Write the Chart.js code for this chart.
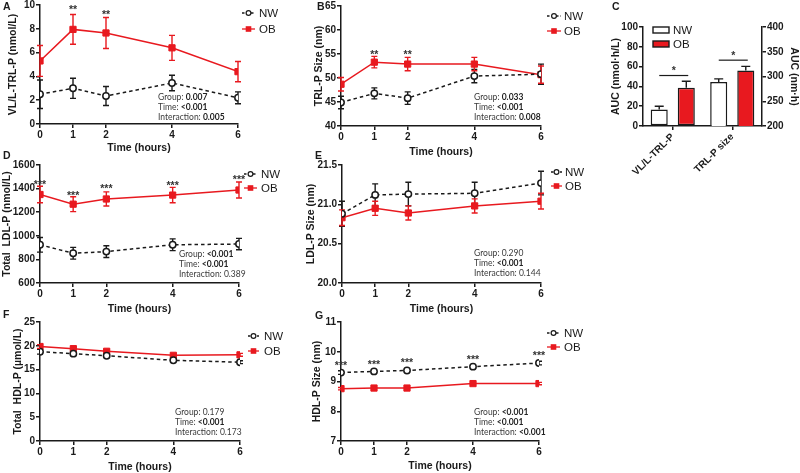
<!DOCTYPE html>
<html><head><meta charset="utf-8">
<script src="https://cdn.jsdelivr.net/npm/chart.js@4.4.1/dist/chart.umd.min.js"></script>
<style>
html,body{margin:0;padding:0;background:#fff;overflow:hidden;width:800px;height:473px;position:relative}
.pane{position:absolute;left:-50px;top:-50px;width:900px;height:573px}
canvas{display:block}
</style></head><body>
<script>
// ---------------- DATA ----------------
const timeHours = [0, 1, 2, 4, 6];
const timeTickValues = [0, 1, 2, 4, 6];
const groupNames = ['NW', 'OB'];

// A: VL/L-TRL-P (nmol/L)
const vlNW = [2.5, 3.0, 2.35, 3.45, 2.2];
const vlNWsem = [1.2, 0.85, 0.8, 0.65, 0.5];
const vlOB = [5.3, 7.95, 7.65, 6.4, 4.4];
const vlOBsem = [1.3, 1.25, 1.3, 1.05, 0.85];
const vlStars = ['', '**', '**', '', ''];
const vlStarY = [null, 9.85, 9.45, null, null];
const vlTicks = [0, 2, 4, 6, 8, 10];
const vlTickLabels = ['0', '2', '4', '6', '8', '10'];
const vlStats = [['Group: ', '0.007', true], ['Time: ', '<0.001', true], ['Interaction: ', '0.005', true]];

// B: TRL-P size (nm)
const trlNW = [44.9, 46.8, 45.8, 50.4, 50.8];
const trlNWsem = [1.3, 1.15, 1.3, 1.4, 2.1];
const trlOB = [48.7, 53.3, 52.9, 52.9, 50.7];
const trlOBsem = [1.4, 1.2, 1.4, 1.4, 1.8];
const trlStars = ['', '**', '**', '', ''];
const trlStarY = [null, 55.5, 55.5, null, null];
const trlTicks = [40, 45, 50, 55, 60, 65];
const trlTickLabels = ['40', '45', '50', '55', '60', '65'];
const trlStats = [['Group: ', '0.033', true], ['Time: ', '<0.001', true], ['Interaction: ', '0.008', true]];

// C: AUC
const aucCategories = ['VL/L-TRL-P', 'TRL-P size'];
const aucNW = [16.7, 288.7];
const aucNWsem = [3.3, 6.5];
const aucOB = [38.7, 312];
const aucOBsem = [6.5, 8.5];
const aucSig = ['*', '*'];
const aucSigY = [51, 333];
const aucLeftTicks = [0, 20, 40, 60, 80, 100];
const aucRightTicks = [200, 250, 300, 350, 400];

// D: Total LDL-P (nmol/L)
const ldlNW = [924, 852, 866, 924, 930];
const ldlNWsem = [62, 50, 50, 50, 48];
const ldlOB = [1350, 1268, 1312, 1345, 1388];
const ldlOBsem = [70, 63, 60, 65, 68];
const ldlStars = ['***', '***', '***', '***', '***'];
const ldlStarY = [1456, 1362, 1421, 1447, 1498];
const ldlTicks = [600, 800, 1000, 1200, 1400, 1600];
const ldlTickLabels = ['600', '800', '1000', '1200', '1400', '1600'];
const ldlStats = [['Group: ', '<0.001', true], ['Time: ', '<0.001', true], ['Interaction: ', '0.389', false]];

// E: LDL-P size (nm)
const ldlSizeNW = [20.88, 21.12, 21.13, 21.14, 21.27];
const ldlSizeNWsem = [0.16, 0.14, 0.15, 0.14, 0.15];
const ldlSizeOB = [20.83, 20.95, 20.89, 20.98, 21.04];
const ldlSizeOBsem = [0.10, 0.09, 0.09, 0.09, 0.10];
const ldlSizeTicks = [20.0, 20.5, 21.0, 21.5];
const ldlSizeTickLabels = ['20.0', '20.5', '21.0', '21.5'];
const ldlSizeStats = [['Group: ', '0.290', false], ['Time: ', '<0.001', true], ['Interaction: ', '0.144', false]];

// F: Total HDL-P (umol/L)
const hdlNW = [18.75, 18.35, 17.9, 16.95, 16.55];
const hdlNWsem = [0.5, 0.4, 0.35, 0.3, 0.3];
const hdlOB = [19.85, 19.4, 18.85, 18.0, 18.1];
const hdlOBsem = [0.4, 0.35, 0.35, 0.3, 0.3];
const hdlTicks = [0, 5, 10, 15, 20, 25];
const hdlTickLabels = ['0', '5', '10', '15', '20', '25'];
const hdlStats = [['Group: ', '0.179', false], ['Time: ', '<0.001', true], ['Interaction: ', '0.173', false]];

// G: HDL-P size (nm)
const hdlSizeNW = [9.3, 9.34, 9.37, 9.5, 9.62];
const hdlSizeNWsem = [0.06, 0.05, 0.05, 0.05, 0.06];
const hdlSizeOB = [8.76, 8.78, 8.78, 8.93, 8.93];
const hdlSizeOBsem = [0.04, 0.04, 0.04, 0.04, 0.04];
const hdlSizeStars = ['***', '***', '***', '***', '***'];
const hdlSizeStarY = [9.63, 9.66, 9.71, 9.81, 9.95];
const hdlSizeTicks = [7, 8, 9, 10, 11];
const hdlSizeTickLabels = ['7', '8', '9', '10', '11'];
const hdlSizeStats = [['Group: ', '<0.001', true], ['Time: ', '<0.001', true], ['Interaction: ', '<0.001', true]];

// ---------------- STYLE / LAYOUT ----------------
const OFF = 50, CW = 900, CH = 573;
const P = v => v + OFF;
const INK = '#1a1a1a';
const RED = '#e8191f';
const FONT = '"Liberation Sans", Arial, Helvetica, sans-serif';
const STATFONT = 'Lato, "Open Sans", sans-serif';
const TICKSIZE = 10;
Chart.defaults.font.family = FONT;
Chart.defaults.color = INK;

function newCanvas() {
  const host = document.createElement('div');
  host.className = 'pane';
  const cv = document.createElement('canvas');
  cv.width = CW; cv.height = CH;
  cv.style.width = CW + 'px'; cv.style.height = CH + 'px';
  host.appendChild(cv);
  document.body.appendChild(host);
  return cv;
}

function axisBase() {
  return {
    grid: { display: true, drawOnChartArea: false, drawTicks: true, tickLength: 4, color: INK, lineWidth: 1.5 },
    border: { display: true, color: INK, width: 1.5 },
    ticks: { color: INK, font: { size: TICKSIZE, weight: 'bold' }, padding: 1, autoSkip: false, maxRotation: 0 }
  };
}

function drawLetter(ctx, L) {
  ctx.save();
  ctx.font = 'bold 10.5px ' + FONT;
  ctx.fillStyle = INK; ctx.textAlign = 'left'; ctx.textBaseline = 'alphabetic';
  ctx.fillText(L.t, P(L.x), P(L.y));
  ctx.restore();
}

function drawStats(ctx, st) {
  ctx.save();
  ctx.textBaseline = 'middle'; ctx.textAlign = 'left';
  st.lines.forEach(([lab, val, bold], k) => {
    const y = P(st.y) + k * st.dy;
    ctx.fillStyle = '#3a3a3a';
    ctx.font = '8.5px ' + STATFONT;
    ctx.fillText(lab, P(st.x), y);
    const w = ctx.measureText(lab).width;
    ctx.font = (bold ? 'bold ' : '') + '8.5px ' + STATFONT;
    ctx.fillStyle = bold ? '#222' : '#3a3a3a';
    ctx.fillText(val, P(st.x) + w, y);
  });
  ctx.restore();
}

function drawLineLegend(ctx, lg) {
  ctx.save();
  const y1 = P(lg.y[0]), y2 = P(lg.y[1]);
  const x0 = P(lg.x0), x1 = P(lg.x1), xm = (x0 + x1) / 2;
  ctx.strokeStyle = INK; ctx.lineWidth = 1.3; ctx.setLineDash([2.5, 2]);
  ctx.beginPath(); ctx.moveTo(x0, y1); ctx.lineTo(x1, y1); ctx.stroke();
  ctx.setLineDash([]);
  ctx.beginPath(); ctx.arc(xm, y1, 2.4, 0, Math.PI * 2);
  ctx.fillStyle = '#fff'; ctx.fill(); ctx.lineWidth = 1.2; ctx.stroke();
  ctx.strokeStyle = RED; ctx.lineWidth = 1.3;
  ctx.beginPath(); ctx.moveTo(x0, y2); ctx.lineTo(x1, y2); ctx.stroke();
  ctx.fillStyle = RED; ctx.fillRect(xm - 2.8, y2 - 2.8, 5.6, 5.6);
  ctx.fillStyle = INK; ctx.font = '11.5px ' + FONT;
  ctx.textAlign = 'left'; ctx.textBaseline = 'middle';
  ctx.fillText(groupNames[0], P(lg.tx), y1 + 0.5);
  ctx.fillText(groupNames[1], P(lg.tx), y2 + 0.5);
  ctx.restore();
}

function drawErrorBars(chart, upOnly, cap) {
  const ctx = chart.ctx;
  chart.data.datasets.forEach((ds, i) => {
    if (!ds.errors) return;
    const meta = chart.getDatasetMeta(i);
    const ys = chart.scales[meta.yAxisID];
    ctx.save();
    ctx.strokeStyle = ds.errColor; ctx.lineWidth = 1.4;
    meta.data.forEach((el, j) => {
      const raw = ds.data[j];
      const v = (raw !== null && typeof raw === 'object') ? raw.y : raw;
      const e = ds.errors[j];
      if (v === null || v === undefined || e === null || e === undefined) return;
      const x = el.x;
      const yt = ys.getPixelForValue(v + e);
      const yb = upOnly ? ys.getPixelForValue(v) : ys.getPixelForValue(v - e);
      ctx.beginPath();
      ctx.moveTo(x, yt); ctx.lineTo(x, yb);
      ctx.moveTo(x - cap, yt); ctx.lineTo(x + cap, yt);
      if (!upOnly) { ctx.moveTo(x - cap, yb); ctx.lineTo(x + cap, yb); }
      ctx.stroke();
    });
    ctx.restore();
  });
}

function toPts(arr) { return timeHours.map((t, i) => ({ x: t, y: arr[i] })); }

function makeLine(cfg) {
  const cv = newCanvas();
  const b = cfg.box;
  const xAxis = axisBase();
  xAxis.type = 'linear'; xAxis.min = 0; xAxis.max = 6;
  xAxis.afterBuildTicks = s => { s.ticks = timeTickValues.map(v => ({ value: v })); };
  xAxis.afterFit = s => { s.height = cfg.hx; };
  xAxis.title = { display: true, text: 'Time (hours)', color: INK, font: { size: 10.5, weight: 'bold' }, padding: 0 };
  const yAxis = axisBase();
  yAxis.type = 'linear';
  yAxis.min = cfg.yTicks[0]; yAxis.max = cfg.yTicks[cfg.yTicks.length - 1];
  yAxis.afterBuildTicks = s => { s.ticks = cfg.yTicks.map(v => ({ value: v })); };
  yAxis.ticks.callback = (v, i) => cfg.yLabels[i];
  yAxis.afterFit = s => { s.width = cfg.wy; };
  yAxis.title = { display: true, text: cfg.yTitle, color: INK, font: { size: 10.5, weight: 'bold' }, padding: 0 };

  const decor = {
    id: 'decor',
    beforeDatasetsDraw(chart) { drawErrorBars(chart, false, 3); },
    afterDraw(chart) {
      const ctx = chart.ctx;
      if (cfg.stars) {
        ctx.save();
        ctx.font = 'bold 10.5px ' + FONT; ctx.fillStyle = '#333';
        ctx.textAlign = 'center'; ctx.textBaseline = 'alphabetic';
        cfg.stars.forEach((s, j) => {
          if (!s) return;
          const x = chart.scales.x.getPixelForValue(timeHours[j]);
          const y = chart.scales.y.getPixelForValue(cfg.starY[j]);
          ctx.fillText(s, x, y + 0.57 * 10.5);
        });
        ctx.restore();
      }
      drawStats(ctx, cfg.stats);
      drawLineLegend(ctx, cfg.legend);
      drawLetter(ctx, cfg.letter);
    }
  };

  new Chart(cv, {
    type: 'line',
    data: {
      datasets: [
        { label: groupNames[0], data: toPts(cfg.nw), errors: cfg.nwErr, errColor: INK,
          borderColor: INK, borderWidth: 1.5, borderDash: [3.5, 3], tension: 0, fill: false,
          pointStyle: 'circle', pointRadius: 3.2, pointBorderWidth: 1.5,
          pointBackgroundColor: '#fff', pointBorderColor: INK },
        { label: groupNames[1], data: toPts(cfg.ob), errors: cfg.obErr, errColor: RED,
          borderColor: RED, borderWidth: 1.5, tension: 0, fill: false,
          pointStyle: 'rect', pointRadius: 4.4, pointBorderWidth: 1,
          pointBackgroundColor: RED, pointBorderColor: RED }
      ]
    },
    options: {
      responsive: false, animation: false, events: [], devicePixelRatio: 1,
      layout: { padding: { left: P(b.L) - cfg.wy, top: P(b.T), right: CW - P(b.R), bottom: CH - P(b.B) - cfg.hx } },
      plugins: { legend: { display: false }, tooltip: { enabled: false }, title: { display: false } },
      scales: { x: xAxis, y: yAxis }
    },
    plugins: [decor]
  });
}

// ---------------- LINE PANELS ----------------
makeLine({ box: { L: 40, T: 5, R: 238, B: 124 }, wy: 33, hx: 30,
  yTicks: vlTicks, yLabels: vlTickLabels, yTitle: 'VL/L-TRL-P (nmol/L)',
  nw: vlNW, nwErr: vlNWsem, ob: vlOB, obErr: vlOBsem, stars: vlStars, starY: vlStarY,
  stats: { x: 158, y: 97.5, dy: 10, lines: vlStats },
  legend: { x0: 242, x1: 255, tx: 259, y: [13, 29] }, letter: { t: 'A', x: 3, y: 10 } });

makeLine({ box: { L: 341, T: 6, R: 541, B: 126 }, wy: 28, hx: 32,
  yTicks: trlTicks, yLabels: trlTickLabels, yTitle: 'TRL-P Size (nm)',
  nw: trlNW, nwErr: trlNWsem, ob: trlOB, obErr: trlOBsem, stars: trlStars, starY: trlStarY,
  stats: { x: 474, y: 97.5, dy: 10, lines: trlStats },
  legend: { x0: 547, x1: 561, tx: 564, y: [16, 31] }, letter: { t: 'B', x: 317, y: 10 } });

makeLine({ box: { L: 40, T: 165, R: 239, B: 283 }, wy: 39, hx: 32,
  yTicks: ldlTicks, yLabels: ldlTickLabels, yTitle: 'Total  LDL-P (nmol/L)',
  nw: ldlNW, nwErr: ldlNWsem, ob: ldlOB, obErr: ldlOBsem, stars: ldlStars, starY: ldlStarY,
  stats: { x: 179, y: 254, dy: 10, lines: ldlStats },
  legend: { x0: 244, x1: 257, tx: 261, y: [174, 188] }, letter: { t: 'D', x: 3, y: 159 } });

makeLine({ box: { L: 342, T: 165, R: 541, B: 283 }, wy: 37, hx: 32,
  yTicks: ldlSizeTicks, yLabels: ldlSizeTickLabels, yTitle: 'LDL-P Size (nm)',
  nw: ldlSizeNW, nwErr: ldlSizeNWsem, ob: ldlSizeOB, obErr: ldlSizeOBsem,
  stats: { x: 474, y: 253, dy: 10, lines: ldlSizeStats },
  legend: { x0: 551, x1: 562, tx: 565, y: [172, 186] }, letter: { t: 'E', x: 315, y: 159 } });

makeLine({ box: { L: 40, T: 322, R: 240, B: 441 }, wy: 28, hx: 32,
  yTicks: hdlTicks, yLabels: hdlTickLabels, yTitle: 'Total  HDL-P (\u00b5mol/L)',
  nw: hdlNW, nwErr: hdlNWsem, ob: hdlOB, obErr: hdlOBsem,
  stats: { x: 175, y: 412, dy: 10, lines: hdlStats },
  legend: { x0: 248, x1: 259, tx: 264, y: [336, 351] }, letter: { t: 'F', x: 3, y: 318 } });

makeLine({ box: { L: 341, T: 322, R: 539, B: 441 }, wy: 30, hx: 31,
  yTicks: hdlSizeTicks, yLabels: hdlSizeTickLabels, yTitle: 'HDL-P Size (nm)',
  nw: hdlSizeNW, nwErr: hdlSizeNWsem, ob: hdlSizeOB, obErr: hdlSizeOBsem, stars: hdlSizeStars, starY: hdlSizeStarY,
  stats: { x: 474, y: 412, dy: 10, lines: hdlSizeStats },
  legend: { x0: 547, x1: 560, tx: 564, y: [333, 347] }, letter: { t: 'G', x: 315, y: 319 } });

// ---------------- BAR PANEL C ----------------
(function () {
  const cv = newCanvas();
  const b = { L: 643, T: 27, R: 762, B: 126 };
  const wyL = 33, wyR = 38, hx = 50;
  const xAxis = axisBase();
  xAxis.type = 'category'; xAxis.offset = true;
  xAxis.grid.offset = false;
  xAxis.ticks.maxRotation = 45; xAxis.ticks.minRotation = 45;
  xAxis.afterFit = s => { s.height = hx; };
  const yL = axisBase();
  yL.type = 'linear'; yL.position = 'left'; yL.min = aucLeftTicks[0]; yL.max = aucLeftTicks[aucLeftTicks.length - 1];
  yL.afterBuildTicks = s => { s.ticks = aucLeftTicks.map(v => ({ value: v })); };
  yL.afterFit = s => { s.width = wyL; };
  yL.title = { display: true, text: 'AUC (nmol\u00b7h/L)', color: INK, font: { size: 10.5, weight: 'bold' }, padding: 0 };
  const yR = axisBase();
  yR.type = 'linear'; yR.position = 'right'; yR.min = aucRightTicks[0]; yR.max = aucRightTicks[aucRightTicks.length - 1];
  yR.afterBuildTicks = s => { s.ticks = aucRightTicks.map(v => ({ value: v })); };
  yR.afterFit = s => { s.width = wyR; };
  yR.title = { display: true, text: 'AUC (nm\u00b7h)', color: INK, font: { size: 10.5, weight: 'bold' }, padding: 0 };

  const barStyle = (fill) => ({ backgroundColor: fill, borderColor: INK, borderWidth: 1.5, borderSkipped: false, skipNull: true });

  const decor = {
    id: 'decorC',
    afterDatasetsDraw(chart) { drawErrorBars(chart, true, 4.5); },
    afterDraw(chart) {
      const ctx = chart.ctx;
      ctx.save();
      const axes = ['yL', 'yR'];
      aucSig.forEach((s, k) => {
        const xc = chart.scales.x.getPixelForValue(k) + 1;
        const y = chart.scales[axes[k]].getPixelForValue(aucSigY[k]);
        ctx.strokeStyle = INK; ctx.lineWidth = 1.2;
        ctx.beginPath(); ctx.moveTo(xc - 14.5, y); ctx.lineTo(xc + 14.5, y); ctx.stroke();
        ctx.font = 'bold 10.5px ' + FONT; ctx.fillStyle = '#333';
        ctx.textAlign = 'center'; ctx.textBaseline = 'alphabetic';
        ctx.fillText(s, xc, y - 7.5 + 0.57 * 10.5);
      });
      ctx.lineWidth = 1.4; ctx.strokeStyle = INK;
      ctx.fillStyle = '#fff'; ctx.fillRect(P(653), P(27), 16, 6); ctx.strokeRect(P(653), P(27), 16, 6);
      ctx.fillStyle = RED; ctx.fillRect(P(653), P(41), 16, 6); ctx.strokeRect(P(653), P(41), 16, 6);
      ctx.fillStyle = INK; ctx.font = '11.5px ' + FONT; ctx.textAlign = 'left'; ctx.textBaseline = 'middle';
      ctx.fillText(groupNames[0], P(673), P(30.5));
      ctx.fillText(groupNames[1], P(673), P(44.5));
      ctx.restore();
      drawLetter(ctx, { t: 'C', x: 612, y: 10 });
    }
  };

  new Chart(cv, {
    type: 'bar',
    data: {
      labels: aucCategories,
      datasets: [
        Object.assign({ label: groupNames[0], data: [aucNW[0], null], errors: [aucNWsem[0], null], errColor: INK, yAxisID: 'yL' }, barStyle('#fff')),
        Object.assign({ label: groupNames[1], data: [aucOB[0], null], errors: [aucOBsem[0], null], errColor: INK, yAxisID: 'yL' }, barStyle(RED)),
        Object.assign({ label: groupNames[0], data: [null, aucNW[1]], errors: [null, aucNWsem[1]], errColor: INK, yAxisID: 'yR' }, barStyle('#fff')),
        Object.assign({ label: groupNames[1], data: [null, aucOB[1]], errors: [null, aucOBsem[1]], errColor: INK, yAxisID: 'yR' }, barStyle(RED))
      ]
    },
    options: {
      responsive: false, animation: false, events: [], devicePixelRatio: 1,
      skipNull: true, categoryPercentage: 0.91, barPercentage: 0.63,
      layout: { padding: { left: P(b.L) - wyL, top: P(b.T), right: CW - P(b.R) - wyR, bottom: CH - P(b.B) - hx } },
      plugins: { legend: { display: false }, tooltip: { enabled: false } },
      scales: { x: xAxis, yL: yL, yR: yR }
    },
    plugins: [decor]
  });
})();
</script>
</body></html>
